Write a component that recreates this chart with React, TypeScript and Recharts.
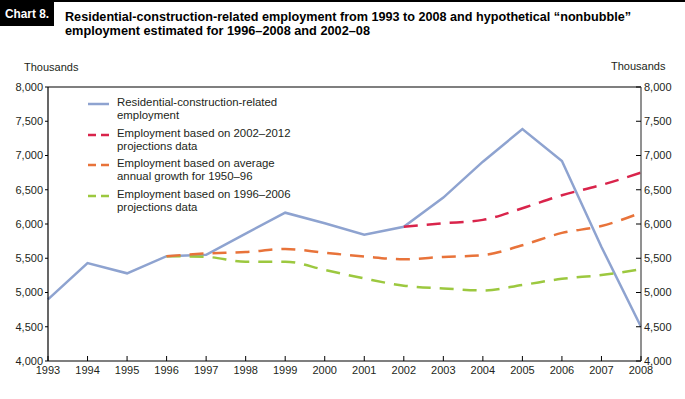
import { LineChart, Line, XAxis, YAxis, Legend, ReferenceLine } from "recharts";

const years = [1993, 1994, 1995, 1996, 1997, 1998, 1999, 2000, 2001, 2002, 2003, 2004, 2005, 2006, 2007, 2008];
// thousands of jobs
const residential = [4900, 5430, 5280, 5530, 5550, 5860, 6165, 6010, 5845, 5960, 6385, 6910, 7385, 6920, 5665, 4500];
const proj2002 = [null, null, null, null, null, null, null, null, null, 5960, 6010, 6060, 6230, 6420, 6570, 6750];
const growth1950 = [null, null, null, 5530, 5570, 5590, 5635, 5580, 5525, 5485, 5520, 5545, 5690, 5870, 5970, 6165];
const proj1996 = [null, null, null, 5530, 5520, 5450, 5450, 5330, 5205, 5100, 5060, 5030, 5110, 5200, 5255, 5340];
const yTicks = [4000, 4500, 5000, 5500, 6000, 6500, 7000, 7500, 8000];

const BLUE = "#8ea3d0";
const RED = "#d9244b";
const ORANGE = "#e8733a";
const GREEN = "#9cc83f";
const FONT = "'Liberation Sans', Arial, sans-serif";
const TEXT = "#231f20";

const legendItems = [
  { lines: ["Residential-construction-related", "employment"], color: BLUE, dashed: false },
  { lines: ["Employment based on 2002–2012", "projections data"], color: RED, dashed: true },
  { lines: ["Employment based on average", "annual growth for 1950–96"], color: ORANGE, dashed: true },
  { lines: ["Employment based on 1996–2006", "projections data"], color: GREEN, dashed: true },
];

const rows = years.map((year, i) => ({
  year,
  residential: residential[i],
  proj2002: proj2002[i] ?? undefined,
  growth1950: growth1950[i] ?? undefined,
  proj1996: proj1996[i] ?? undefined,
}));

const fmt = (v: number) => v.toLocaleString("en-US");

function XTick(props: any) {
  const { x, y, payload } = props;
  return (
    <g>
      <line x1={x} x2={x} y1={y - 5} y2={y - 10} stroke="#000" strokeWidth={1} />
      <text x={x} y={y} dy="0.71em" textAnchor="middle" fontSize={11} fill={TEXT} fontFamily={FONT}>
        {payload.value}
      </text>
    </g>
  );
}

function RightTick(props: any) {
  const { x, y, payload } = props;
  return (
    <g>
      <line x1={x - 3} x2={x - 8} y1={y} y2={y} stroke="#000" strokeWidth={1} />
      <text x={x} y={y} dy="0.355em" textAnchor="start" fontSize={11} fill={TEXT} fontFamily={FONT}>
        {fmt(payload.value)}
      </text>
    </g>
  );
}

function LegendBox() {
  return (
    <div style={{ fontFamily: FONT, fontSize: 11.4, color: TEXT, lineHeight: "13px" }}>
      {legendItems.map((it) => (
        <div key={it.color} style={{ display: "flex", alignItems: "flex-start", marginBottom: 4.5 }}>
          <svg width={29} height={13} style={{ flex: "none" }}>
            <line
              x1={0}
              x2={21}
              y1={8}
              y2={8}
              stroke={it.color}
              strokeWidth={2.5}
              strokeDasharray={it.dashed ? "8 5" : undefined}
            />
          </svg>
          <div>
            {it.lines.map((l) => (
              <div key={l}>{l}</div>
            ))}
          </div>
        </div>
      ))}
    </div>
  );
}

export default function App() {
  return (
    <div style={{ position: "absolute", left: 0, top: 0, width: 685, height: 399, background: "#fff" }}>
      <svg width={685} height={60} style={{ position: "absolute", left: 0, top: 0 }}>
        <rect x={0} y={0} width={685} height={2} fill="#000" />
        <rect x={0} y={0} width={54} height={26} fill="#000" />
        <text x={5} y={17.5} fill="#fff" fontSize={12.5} fontWeight="bold" fontFamily={FONT} textLength={44} lengthAdjust="spacingAndGlyphs">
          Chart 8.
        </text>
        <text x={65} y={21} fill="#000" fontSize={12.2} fontWeight="bold" fontFamily={FONT} textLength={566} lengthAdjust="spacingAndGlyphs">
          Residential-construction-related employment from 1993 to 2008 and hypothetical “nonbubble”
        </text>
        <text x={65} y={34.5} fill="#000" fontSize={12.2} fontWeight="bold" fontFamily={FONT} textLength={305} lengthAdjust="spacingAndGlyphs">
          employment estimated for 1996–2008 and 2002–08
        </text>
      </svg>
      <div style={{ position: "absolute", left: 24, top: 61, fontFamily: FONT, fontSize: 11, color: TEXT }}>Thousands</div>
      <div style={{ position: "absolute", left: 611, top: 60, fontFamily: FONT, fontSize: 11, color: TEXT }}>Thousands</div>
      <LineChart
        width={685}
        height={399}
        data={rows}
        margin={{ top: 87, right: 0, left: 0, bottom: 18 }}
        style={{ position: "absolute", left: 0, top: 0 }}
      >
        <XAxis
          dataKey="year"
          type="number"
          domain={[1993, 2008]}
          ticks={years}
          interval={0}
          height={20}
          tickSize={0}
          tickMargin={5}
          axisLine={{ stroke: "#000", strokeWidth: 1.2 }}
          tickLine={false}
          tick={<XTick />}
        />
        <YAxis
          yAxisId="left"
          domain={[4000, 8000]}
          ticks={yTicks}
          width={48}
          tickSize={3}
          tickMargin={2}
          tickFormatter={fmt}
          axisLine={{ stroke: "#000", strokeWidth: 1.2 }}
          tickLine={{ stroke: "#000" }}
          tick={{ fontSize: 11, fill: TEXT, fontFamily: FONT }}
        />
        <YAxis
          yAxisId="right"
          orientation="right"
          domain={[4000, 8000]}
          ticks={yTicks}
          interval={0}
          width={44}
          tickSize={0}
          tickMargin={3}
          axisLine={{ stroke: "#6d6d6d", strokeWidth: 1.5 }}
          tickLine={false}
          tick={<RightTick />}
        />
        <ReferenceLine yAxisId="left" y={8000} stroke="#000" strokeWidth={1.2} />
        <Legend
          layout="vertical"
          align="center"
          verticalAlign="middle"
          wrapperStyle={{ left: 88, top: 96, width: 240 }}
          content={() => <LegendBox />}
        />
        <Line
          yAxisId="left"
          dataKey="residential"
          type="linear"
          stroke={BLUE}
          strokeWidth={2.5}
          dot={false}
          isAnimationActive={false}
        />
        <Line
          yAxisId="left"
          dataKey="proj1996"
          type="monotone"
          stroke={GREEN}
          strokeWidth={2.5}
          strokeDasharray="14 9"
          dot={false}
          isAnimationActive={false}
        />
        <Line
          yAxisId="left"
          dataKey="growth1950"
          type="monotone"
          stroke={ORANGE}
          strokeWidth={2.5}
          strokeDasharray="14 9"
          dot={false}
          isAnimationActive={false}
        />
        <Line
          yAxisId="right"
          dataKey="proj2002"
          type="monotone"
          stroke={RED}
          strokeWidth={2.5}
          strokeDasharray="14 9"
          dot={false}
          isAnimationActive={false}
        />
      </LineChart>
    </div>
  );
}
